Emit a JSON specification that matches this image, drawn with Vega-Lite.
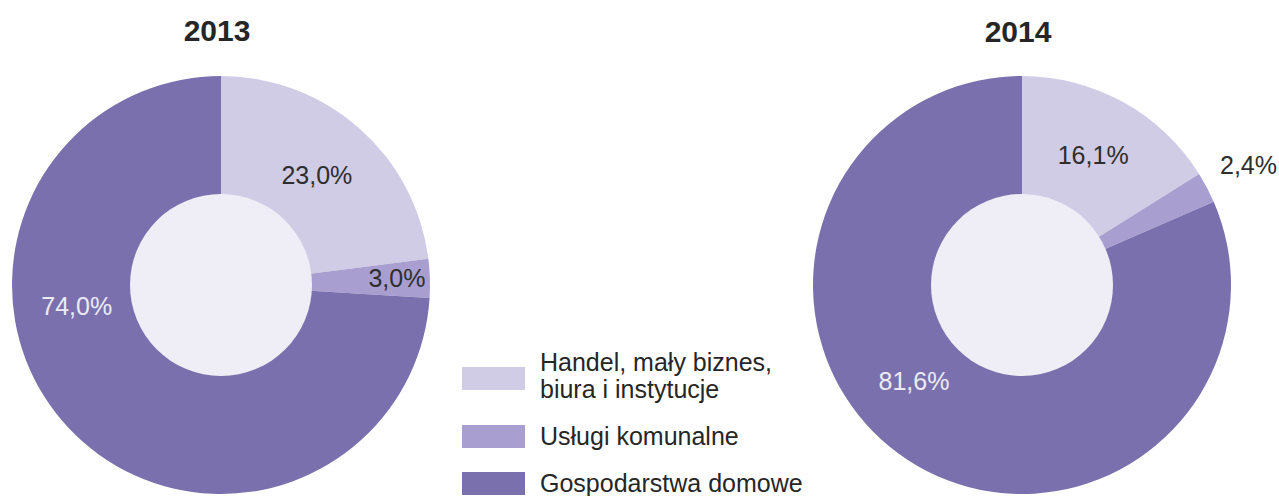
{
  "$schema": "https://vega.github.io/schema/vega-lite/v6.json",
  "padding": {"top": 17, "left": 0, "right": 0, "bottom": 0},
  "background": "#ffffff",
  "datasets": {
    "d": [
      {"rok": 2013, "kat": "Handel, mały biznes, biura i instytucje", "nr": 1, "wartosc": 23.0, "etykieta": "23,0%"},
      {"rok": 2013, "kat": "Usługi komunalne", "nr": 2, "wartosc": 3.0, "etykieta": "3,0%"},
      {"rok": 2013, "kat": "Gospodarstwa domowe", "nr": 3, "wartosc": 74.0, "etykieta": "74,0%"},
      {"rok": 2014, "kat": "Handel, mały biznes, biura i instytucje", "nr": 1, "wartosc": 16.1, "etykieta": "16,1%"},
      {"rok": 2014, "kat": "Usługi komunalne", "nr": 2, "wartosc": 2.4, "etykieta": "2,4%"},
      {"rok": 2014, "kat": "Gospodarstwa domowe", "nr": 3, "wartosc": 81.6, "etykieta": "81,6%"}
    ]
  },
  "config": {
    "view": {"stroke": null},
    "font": "Liberation Sans",
    "title": {"fontSize": 30, "fontWeight": "bold", "color": "#262626", "offset": 29, "anchor": "middle", "dx": -4}
  },
  "spacing": 359,
  "hconcat": [
    {
      "width": 442,
      "height": 418,
      "title": "2013",
      "layer": [
        {
          "data": {"name": "d"},
          "transform": [{"filter": "datum.rok == 2013"}],
          "mark": {"type": "arc", "outerRadius": 209, "innerRadius": 90},
          "encoding": {
            "theta": {"field": "wartosc", "type": "quantitative", "stack": true},
            "order": {"field": "nr", "type": "quantitative"},
            "color": {
              "field": "kat",
              "type": "nominal",
              "scale": {
                "domain": ["Handel, mały biznes, biura i instytucje", "Usługi komunalne", "Gospodarstwa domowe"],
                "range": ["#d0cce6", "#a89fd0", "#7b70ae"]
              },
              "legend": {
                "orient": "none",
                "legendX": 462,
                "legendY": 271,
                "title": null,
                "padding": 0,
                "symbolType": "M-1,-0.365H1V0.365H-1Z",
                "symbolSize": 3969,
                "symbolStrokeWidth": 0,
                "symbolOpacity": 1,
                "labelFont": "Liberation Sans",
                "labelFontSize": 25,
                "labelColor": "#262626",
                "labelOffset": 15,
                "labelLimit": 400,
                "rowPadding": 2,
                "labelExpr": "datum.label == 'Handel, mały biznes, biura i instytucje' ? ['Handel, mały biznes,', 'biura i instytucje'] : datum.label",
                "encode": {
                  "labels": {
                    "update": {
                      "dy": {"signal": "datum.value == 'Handel, mały biznes, biura i instytucje' ? -16 : 0"}
                    }
                  }
                }
              }
            }
          }
        },
        {
          "data": {"values": [{}]},
          "mark": {"type": "arc", "theta": 0, "theta2": 6.2832, "outerRadius": 91, "innerRadius": 0, "fill": "#efedf5"},
          "encoding": {}
        },
        {
          "data": {"name": "d"},
          "transform": [{"filter": "datum.rok == 2013"}],
          "mark": {"type": "text", "radius": 145, "fontSize": 25, "fill": "#2e2e2e"},
          "encoding": {
            "theta": {"field": "wartosc", "type": "quantitative", "stack": true},
            "order": {"field": "nr", "type": "quantitative"},
            "text": {"condition": {"test": "datum.nr == 1", "field": "etykieta"}, "value": ""}
          }
        },
        {
          "data": {"name": "d"},
          "transform": [{"filter": "datum.rok == 2013"}],
          "mark": {"type": "text", "radius": 176, "fontSize": 25, "fill": "#2e2e2e"},
          "encoding": {
            "theta": {"field": "wartosc", "type": "quantitative", "stack": true},
            "order": {"field": "nr", "type": "quantitative"},
            "text": {"condition": {"test": "datum.nr == 2", "field": "etykieta"}, "value": ""}
          }
        },
        {
          "data": {"name": "d"},
          "transform": [{"filter": "datum.rok == 2013"}],
          "mark": {"type": "text", "radius": 146, "thetaOffset": 0.6, "fontSize": 25, "fill": "#ecebf4"},
          "encoding": {
            "theta": {"field": "wartosc", "type": "quantitative", "stack": true},
            "order": {"field": "nr", "type": "quantitative"},
            "text": {"condition": {"test": "datum.nr == 3", "field": "etykieta"}, "value": ""}
          }
        }
      ]
    },
    {
      "width": 442,
      "height": 418,
      "title": {"text": "2014", "offset": 1},
      "layer": [
        {
          "data": {"name": "d"},
          "transform": [{"filter": "datum.rok == 2014"}],
          "mark": {"type": "arc", "outerRadius": 209, "innerRadius": 90},
          "encoding": {
            "theta": {"field": "wartosc", "type": "quantitative", "stack": true},
            "order": {"field": "nr", "type": "quantitative"},
            "color": {"field": "kat", "type": "nominal"}
          }
        },
        {
          "data": {"values": [{}]},
          "mark": {"type": "arc", "theta": 0, "theta2": 6.2832, "outerRadius": 91, "innerRadius": 0, "fill": "#efedf5"},
          "encoding": {}
        },
        {
          "data": {"name": "d"},
          "transform": [{"filter": "datum.rok == 2014"}],
          "mark": {"type": "text", "radius": 147, "fontSize": 25, "fill": "#2e2e2e"},
          "encoding": {
            "theta": {"field": "wartosc", "type": "quantitative", "stack": true},
            "order": {"field": "nr", "type": "quantitative"},
            "text": {"condition": {"test": "datum.nr == 1", "field": "etykieta"}, "value": ""}
          }
        },
        {
          "data": {"name": "d"},
          "transform": [{"filter": "datum.rok == 2014"}],
          "mark": {"type": "text", "radius": 256, "fontSize": 25, "fill": "#2e2e2e"},
          "encoding": {
            "theta": {"field": "wartosc", "type": "quantitative", "stack": true},
            "order": {"field": "nr", "type": "quantitative"},
            "text": {"condition": {"test": "datum.nr == 2", "field": "etykieta"}, "value": ""}
          }
        },
        {
          "data": {"name": "d"},
          "transform": [{"filter": "datum.rok == 2014"}],
          "mark": {"type": "text", "radius": 145, "thetaOffset": 0.26, "fontSize": 25, "fill": "#ecebf4"},
          "encoding": {
            "theta": {"field": "wartosc", "type": "quantitative", "stack": true},
            "order": {"field": "nr", "type": "quantitative"},
            "text": {"condition": {"test": "datum.nr == 3", "field": "etykieta"}, "value": ""}
          }
        }
      ]
    }
  ],
  "resolve": {"scale": {"theta": "independent", "color": "shared"}}
}
